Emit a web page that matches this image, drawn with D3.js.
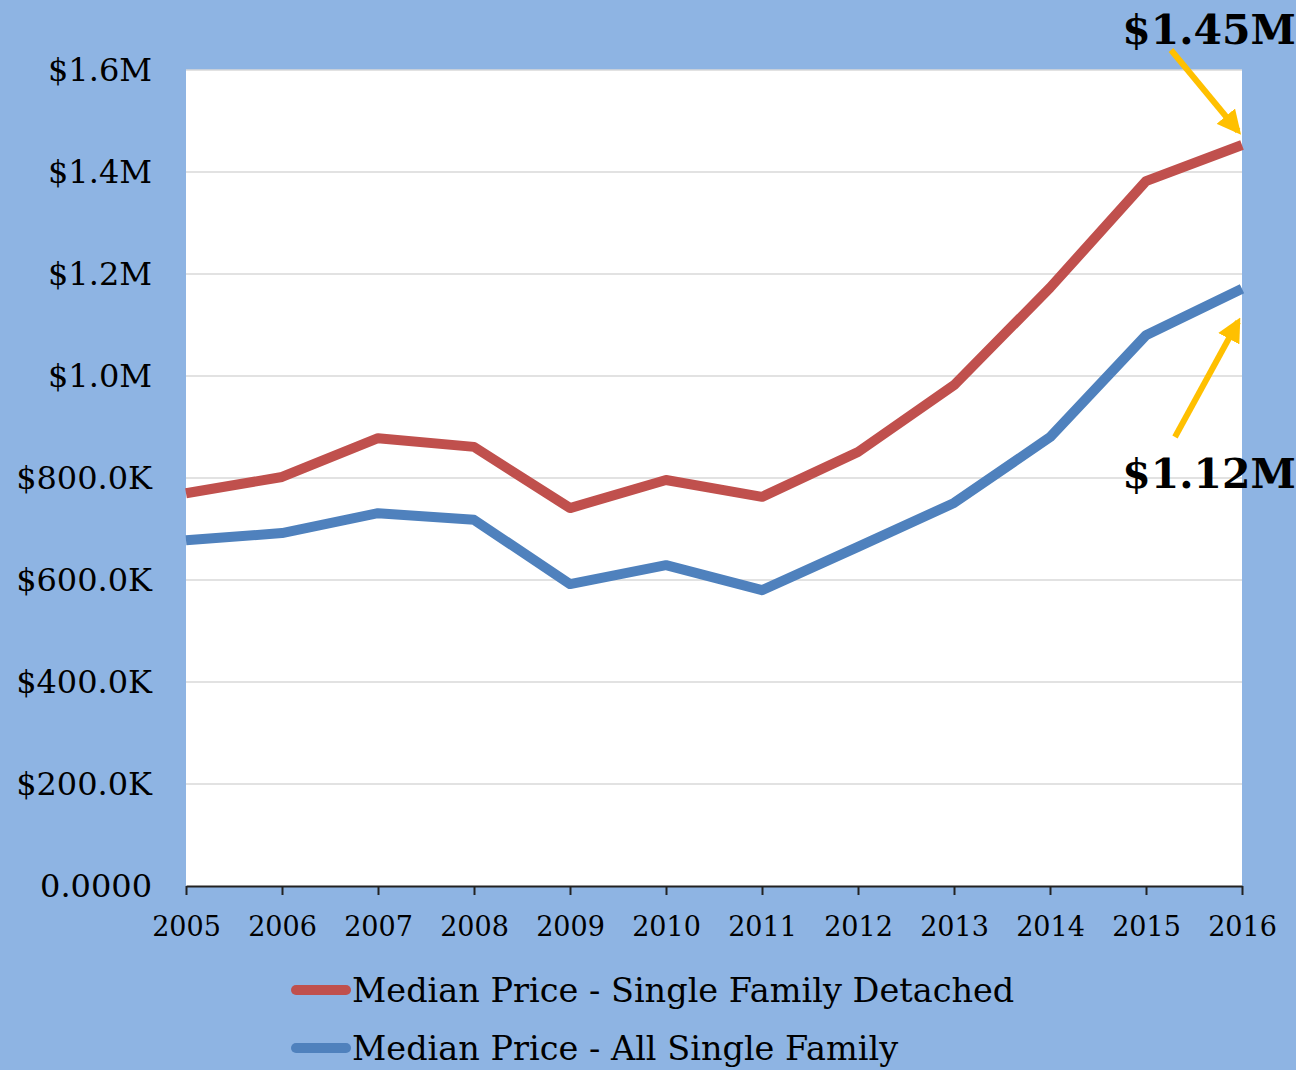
<!DOCTYPE html>
<html>
<head>
<meta charset="utf-8">
<script src="https://cdn.jsdelivr.net/npm/d3@7"></script>
<style>
  body { margin: 0; background: #8EB4E3; }
  svg { display: block; }
  .serif { font-family: "DejaVu Serif", serif; }
</style>
</head>
<body>
<svg id="chart" width="1296" height="1070"></svg>
<script>
// data
const years = [2005, 2006, 2007, 2008, 2009, 2010, 2011, 2012, 2013, 2014, 2015, 2016];
const detached = [770000, 802000, 878000, 861000, 741000, 796000, 763000, 851000, 982000, 1173000, 1382000, 1453000];
const allFamily = [678000, 692000, 731000, 718000, 592000, 629000, 580000, 665000, 751000, 880000, 1080000, 1171000];
const yTicks = [0, 200000, 400000, 600000, 800000, 1000000, 1200000, 1400000, 1600000];
const yTickLabels = ["0.0000", "$200.0K", "$400.0K", "$600.0K", "$800.0K", "$1.0M", "$1.2M", "$1.4M", "$1.6M"];
const seriesNames = ["Median Price - Single Family Detached", "Median Price - All Single Family"];
const callouts = ["$1.45M", "$1.12M"];

const svg = d3.select("#chart");
const m = { left: 186, right: 1242, top: 70, bottom: 886 };

const x = d3.scalePoint().domain(years).range([m.left, m.right]);
const y = d3.scaleLinear().domain([0, 1600000]).range([m.bottom, m.top]);

// plot area
svg.append("rect")
  .attr("x", m.left).attr("y", m.top)
  .attr("width", m.right - m.left).attr("height", m.bottom - m.top)
  .attr("fill", "#fff");

// gridlines
svg.append("g").selectAll("line")
  .data(yTicks.slice(1))
  .join("line")
  .attr("x1", m.left).attr("x2", m.right)
  .attr("y1", d => y(d)).attr("y2", d => y(d))
  .attr("stroke", "#d9d9d9").attr("stroke-width", 1.5);

// y labels
svg.append("g").selectAll("text")
  .data(yTicks)
  .join("text")
  .attr("class", "serif")
  .attr("x", 152)
  .attr("y", d => y(d))
  .attr("dy", "0.35em")
  .attr("text-anchor", "end")
  .attr("font-size", 32)
  .text((d, i) => yTickLabels[i]);

// x axis
const xAxis = svg.append("g")
  .attr("transform", `translate(0,${m.bottom})`)
  .call(d3.axisBottom(x).tickSize(9).tickPadding(22).tickSizeOuter(0));
xAxis.select(".domain").attr("stroke", "#222").attr("stroke-width", 2);
xAxis.selectAll(".tick line").attr("stroke", "#222").attr("stroke-width", 2);
xAxis.selectAll("text")
  .attr("font-family", "'DejaVu Serif', serif")
  .attr("font-size", 27)
  .attr("fill", "#000");

const colors = ["#C0504D", "#4F81BD"];
const line = d3.line().x((d, i) => x(years[i])).y(d => y(d));

[detached, allFamily].forEach((s, k) => {
  svg.append("path")
    .datum(s)
    .attr("d", line)
    .attr("fill", "none")
    .attr("stroke", colors[k])
    .attr("stroke-width", 10)
    .attr("stroke-linejoin", "round");
});

// legend
const legend = svg.append("g");
seriesNames.forEach((name, k) => {
  const ly = 990 + k * 58;
  legend.append("line")
    .attr("x1", 296).attr("x2", 346)
    .attr("y1", ly).attr("y2", ly)
    .attr("stroke", colors[k]).attr("stroke-width", 10)
    .attr("stroke-linecap", "round");
  legend.append("text")
    .attr("class", "serif")
    .attr("x", 352).attr("y", ly)
    .attr("dy", "0.35em")
    .attr("font-size", 33.5)
    .text(name);
});

// callout arrows
const defs = svg.append("defs");
defs.append("marker")
  .attr("id", "head")
  .attr("viewBox", "0 0 10 10")
  .attr("refX", 8).attr("refY", 5)
  .attr("markerWidth", 4).attr("markerHeight", 4)
  .attr("orient", "auto")
  .append("path").attr("d", "M0,0L10,5L0,10Z").attr("fill", "#FFC000");

const last = years[years.length - 1];
svg.append("line")
  .attr("x1", 1171).attr("y1", 50)
  .attr("x2", x(last) - 4).attr("y2", y(detached[11]) - 14)
  .attr("stroke", "#FFC000").attr("stroke-width", 6)
  .attr("marker-end", "url(#head)");
svg.append("line")
  .attr("x1", 1175).attr("y1", 437)
  .attr("x2", x(last) - 4).attr("y2", y(allFamily[11]) + 33)
  .attr("stroke", "#FFC000").attr("stroke-width", 6)
  .attr("marker-end", "url(#head)");

svg.append("text")
  .attr("class", "serif")
  .attr("x", 1296).attr("y", 44)
  .attr("text-anchor", "end")
  .attr("font-size", 41).attr("font-weight", "bold")
  .text(callouts[0]);
svg.append("text")
  .attr("class", "serif")
  .attr("x", 1296).attr("y", 488)
  .attr("text-anchor", "end")
  .attr("font-size", 41).attr("font-weight", "bold")
  .text(callouts[1]);
</script>
</body>
</html>
